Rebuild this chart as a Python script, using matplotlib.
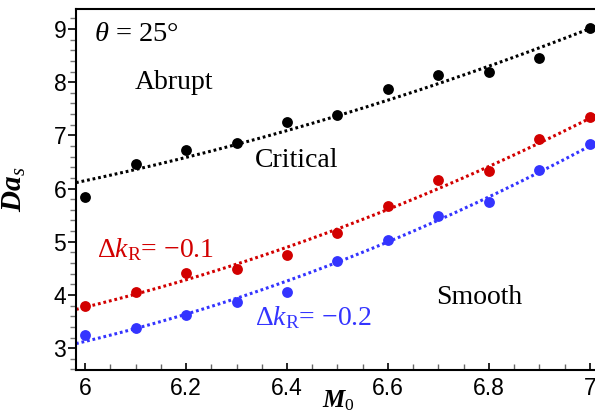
import numpy as np
import matplotlib
matplotlib.use("Agg")
import matplotlib.pyplot as plt
from matplotlib.ticker import MultipleLocator

# Data points
M0 = [6.0, 6.1, 6.2, 6.3, 6.4, 6.5, 6.6, 6.7, 6.8, 6.9, 7.0]
das_critical = [5.84, 6.46, 6.72, 6.86, 7.26, 7.38, 7.88, 8.13, 8.20, 8.46, 9.01]
das_dk01 = [3.80, 4.06, 4.42, 4.49, 4.75, 5.17, 5.68, 6.16, 6.33, 6.94, 7.35]
das_dk02 = [3.24, 3.38, 3.62, 3.87, 4.06, 4.64, 5.03, 5.49, 5.75, 6.35, 6.84]

# Dotted trend curves
trend_x_critical = [5.982, 6.1, 6.2, 6.3, 6.5, 6.8, 7.0]
trend_critical = [6.10, 6.36, 6.63, 6.80, 7.35, 8.32, 9.00]
trend_x_dk01 = [5.982, 6.327, 6.5, 6.6, 6.663, 6.8, 7.0]
trend_dk01 = [3.72, 4.69, 5.22, 5.63, 5.85, 6.38, 7.34]
trend_x_dk02 = [5.982, 6.327, 6.5, 6.6, 6.663, 6.8, 7.0]
trend_dk02 = [3.08, 4.06, 4.56, 5.02, 5.25, 5.85, 6.80]

xticks = [6, 6.2, 6.4, 6.6, 6.8, 7]
xticklabels = ["6", "6.2", "6.4", "6.6", "6.8", "7"]
yticks = [3, 4, 5, 6, 7, 8, 9]

BLACK = "#000000"
RED = "#d20000"
BLUE = "#3434ff"

plt.rcParams["font.family"] = ["Liberation Sans", "DejaVu Sans"]
plt.rcParams["mathtext.fontset"] = "custom"
plt.rcParams["mathtext.rm"] = "Liberation Serif"
plt.rcParams["mathtext.it"] = "Liberation Serif:italic"
plt.rcParams["mathtext.bf"] = "Liberation Serif:bold"
plt.rcParams["mathtext.bfit"] = "Liberation Serif:bold:italic"

fig = plt.figure(figsize=(5.95, 4.12), dpi=100)
ax = fig.add_axes([76 / 595, 1 - 370 / 412, (600 - 76) / 595, (370 - 9) / 412])

xlo, xhi = 5.982, 7.02
xf = np.linspace(xlo, xhi, 200)
series = [
    (das_critical, trend_x_critical, trend_critical, BLACK),
    (das_dk01, trend_x_dk01, trend_dk01, RED),
    (das_dk02, trend_x_dk02, trend_dk02, BLUE),
]
for ys, tx, ty, col in series:
    c = np.polyfit(tx, ty, 2)
    ax.plot(xf, np.polyval(c, xf), linestyle=(0, (0.9, 0.95)), color=col, lw=2.2,
            dash_capstyle="butt", zorder=2)
    ax.plot(M0, ys, "o", color=col, markersize=7.8, markeredgewidth=0, zorder=3,
            clip_on=False)

ax.set_xlim(xlo, xhi)
ax.set_ylim(2.59, 9.375)
ax.set_xticks(xticks)
ax.set_xticklabels(xticklabels)
ax.set_yticks(yticks)
ax.xaxis.set_minor_locator(MultipleLocator(0.05))
ax.yaxis.set_minor_locator(MultipleLocator(0.2))
ax.tick_params(axis="x", which="major", direction="in", length=5, width=1.2,
               labelsize=16.5, pad=5)
ax.tick_params(axis="x", which="minor", direction="in", length=4, width=1.0,
               color="#666666")
ax.tick_params(axis="y", which="major", direction="out", length=6, width=1.2,
               labelsize=16.5, pad=1)
ax.tick_params(axis="y", which="minor", direction="out", length=4, width=1.0,
               color="#777777")
ax.tick_params(axis="x", which="both", top=False)
ax.tick_params(axis="y", which="both", right=False)
ax.spines["right"].set_visible(False)
for s in ["left", "bottom", "top"]:
    ax.spines[s].set_linewidth(1.5)

ax.set_ylabel(r"$\boldsymbol{Da}_{s}$", fontsize=21)
ax.yaxis.set_label_coords((28 - 76) / 524, 0.5)
fig.text(338 / 595, 1 - 401 / 412, r"$\boldsymbol{M}_{0}$", fontsize=18,
         ha="center", va="center")

tkw = dict(family="Liberation Serif", fontsize=20)
ax.text(6.018, 8.9, r"$\theta$ = 25°", family="Liberation Serif", fontsize=20.5,
        va="center", ha="left")
ax.text(6.176, 8.0, "Abrupt", ha="center", va="center", **tkw)
ax.text(6.42, 6.52, "Critical", ha="center", va="center", **tkw)
ax.text(6.78, 3.96, "Smooth", ha="center", va="center", **tkw)
ax.text(6.024, 4.86, r"$\Delta k_{\mathrm{R}}$= −0.1", family="Liberation Serif",
        color=RED, fontsize=20, ha="left", va="center")
ax.text(6.337, 3.58, r"$\Delta k_{\mathrm{R}}$= −0.2", family="Liberation Serif",
        color=BLUE, fontsize=20, ha="left", va="center")

fig.savefig("out.png", dpi=100)
